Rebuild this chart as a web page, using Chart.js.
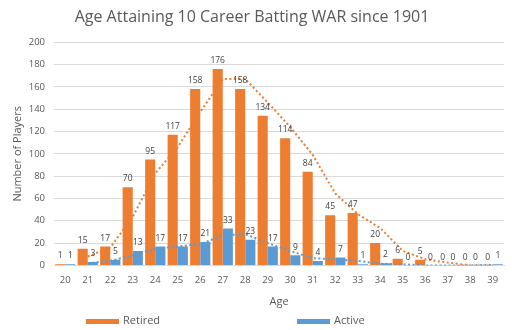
<!DOCTYPE html>
<html>
<head>
<meta charset="utf-8">
<script src="https://cdn.jsdelivr.net/npm/chart.js@4"></script>
<style>
  body { margin: 0; background: #fff; }
  #wrap { width: 512px; height: 330px; }
</style>
</head>
<body>
<div id="wrap"><canvas id="age-chart"></canvas></div>
<script>
var ages = ['20', '21', '22', '23', '24', '25', '26', '27', '28', '29', '30', '31', '32', '33', '34', '35', '36', '37', '38', '39'];
var retired = [1, 15, 17, 70, 95, 117, 158, 176, 158, 134, 114, 84, 45, 47, 20, 6, 5, 0, 0, 0];
var active = [1, 3, 5, 13, 17, 17, 21, 33, 23, 17, 9, 4, 7, 1, 2, 0, 0, 0, 0, 1];
// dotted trend lines (2 period moving average)
var retiredTrend = [null, 8, 16, 43.5, 82.5, 106, 137.5, 167, 167, 146, 124, 99, 64.5, 46, 33.5, 13, 5.5, 2.5, 0, 0];
var activeTrend = [null, 2, 4, 9, 15, 17, 19, 27, 28, 20, 13, 6.5, 5.5, 4, 1.5, 1, 0, 0, 0, 0.5];
var yTicks = [0, 20, 40, 60, 80, 100, 120, 140, 160, 180, 200];

var ORANGE = '#ED7D31';
var BLUE = '#5B9BD5';
var TEXT = '#595959';
var FONT = '"Open Sans", sans-serif';

var valueLabels = {
  id: 'valueLabels',
  afterDatasetsDraw: function (chart) {
    var ctx = chart.ctx;
    ctx.save();
    ctx.font = '8.5px ' + FONT;
    ctx.fillStyle = '#404040';
    ctx.textAlign = 'center';
    ctx.textBaseline = 'bottom';
    chart.data.datasets.forEach(function (ds, i) {
      if (ds.type !== 'bar') return;
      chart.getDatasetMeta(i).data.forEach(function (bar, j) {
        ctx.fillText(String(ds.data[j]), bar.x, bar.y - 4);
      });
    });
    ctx.restore();
  }
};

var bottomLegend = {
  id: 'bottomLegend',
  afterDraw: function (chart) {
    var ctx = chart.ctx;
    var items = [
      { text: 'Retired', color: ORANGE, x: 86 },
      { text: 'Active', color: BLUE, x: 297 }
    ];
    ctx.save();
    ctx.font = '11px ' + FONT;
    ctx.textBaseline = 'middle';
    ctx.textAlign = 'left';
    items.forEach(function (it) {
      ctx.fillStyle = it.color;
      ctx.fillRect(it.x, 319, 33, 5);
      ctx.fillStyle = TEXT;
      ctx.fillText(it.text, it.x + 37, 321);
    });
    ctx.restore();
  }
};

var context = document.getElementById('age-chart').getContext('2d');
var chart = new Chart(context, {
  data: {
    labels: ages,
    datasets: [
      {
        type: 'line',
        label: 'Retired trend',
        data: retiredTrend,
        borderColor: ORANGE,
        borderWidth: 2,
        borderDash: [2, 2.5],
        pointRadius: 0,
        order: 0,
      },
      {
        type: 'line',
        label: 'Active trend',
        data: activeTrend,
        borderColor: BLUE,
        borderWidth: 2,
        borderDash: [2, 2.5],
        pointRadius: 0,
        order: 0,
      },
      {
        type: 'bar',
        label: 'Retired',
        data: retired,
        backgroundColor: ORANGE,
        categoryPercentage: 0.9,
        barPercentage: 1.0,
        order: 1,
      },
      {
        type: 'bar',
        label: 'Active',
        data: active,
        backgroundColor: BLUE,
        categoryPercentage: 0.9,
        barPercentage: 1.0,
        order: 1,
      }
    ],
  },
  options: {
    responsive: true,
    maintainAspectRatio: false,
    animation: false,
    layout: {
      padding: { left: 0, right: 8, top: 0, bottom: 22 }
    },
    plugins: {
      legend: { display: false },
      tooltip: { enabled: false },
      title: {
        display: true,
        text: 'Age Attaining 10 Career Batting WAR since 1901',
        color: TEXT,
        font: { family: FONT, size: 16, weight: 'normal' },
        padding: { top: 8, bottom: 15 }
      },
    },
    scales: {
      x: {
        grid: { display: false, drawTicks: false },
        border: { color: '#D9D9D9' },
        ticks: {
          color: TEXT,
          font: { family: FONT, size: 9.5 },
          padding: 9,
          maxRotation: 0,
        },
        title: {
          display: true,
          text: 'Age',
          color: TEXT,
          font: { family: FONT, size: 11 },
          padding: { top: 0, bottom: 0 }
        }
      },
      y: {
        min: 0,
        max: 200,
        afterBuildTicks: function (scale) {
          scale.ticks = yTicks.map(function (v) { return { value: v }; });
        },
        afterFit: function (scale) { scale.width = 54; },
        grid: { color: '#D9D9D9', drawTicks: false },
        border: { display: false },
        ticks: {
          color: TEXT,
          font: { family: FONT, size: 9.5 },
          padding: 9,
        },
        title: {
          display: true,
          text: 'Number of Players',
          color: TEXT,
          font: { family: FONT, size: 11 },
          padding: { top: 11, bottom: 0 }
        }
      }
    },
  },
  plugins: [valueLabels, bottomLegend]
});
</script>
</body>
</html>
